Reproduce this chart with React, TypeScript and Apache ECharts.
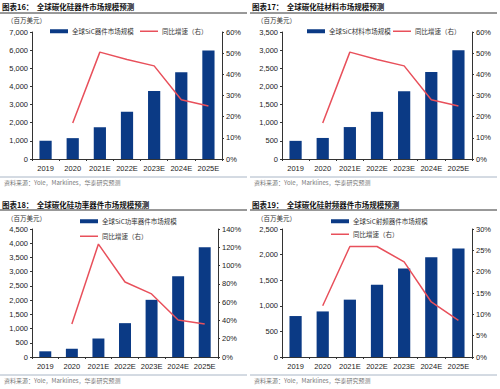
import React, { useEffect, useRef } from "react";
import * as echarts from "echarts";

const categories = ["2019", "2020", "2021E", "2022E", "2023E", "2024E", "2025E"];

const deviceMarket = [1000, 1150, 1750, 2600, 3750, 4780, 5980];
const deviceGrowth = [null, 17, 50.5, 47, 44, 28, 25];

const materialMarket = [500, 580, 880, 1300, 1870, 2400, 3000];
const materialGrowth = [null, 17, 50.5, 47, 44, 28, 25];

const powerMarket = [200, 290, 650, 1190, 2010, 2840, 3860];
const powerGrowth = [null, 36, 123.5, 82, 69, 40.5, 36];

const rfMarket = [800, 890, 1120, 1410, 1730, 1950, 2120];
const rfGrowth = [null, 12, 25.9, 25.9, 22.3, 12.9, 8.6];

const BAR = "#0B3A85";
const LINE = "#E8505B";
const FONT = "'Liberation Sans', Arial, sans-serif";
const CJK = "'Noto Sans CJK SC', sans-serif";

type PanelCfg = {
  title: string;
  barName: string;
  bars: number[];
  growth: (number | null)[];
  leftMax: number;
  leftInterval: number;
  rightMax: number;
  rightInterval: number;
  top: boolean;
  grid: { left: number; right: number; top: number; bottom: number };
  barLegend: { left: number; top: number };
  lineLegend: { left: number; top: number };
};

const panels: (PanelCfg & { x: number; y: number; h: number })[] = [
  {
    x: 0, y: 0, h: 195,
    title: "图表16：  全球碳化硅器件市场规模预测",
    barName: "全球SiC器件市场规模",
    bars: deviceMarket, growth: deviceGrowth,
    leftMax: 7000, leftInterval: 1000, rightMax: 60, rightInterval: 10,
    top: true,
    grid: { left: 32, right: 28, top: 32, bottom: 36 },
    barLegend: { left: 50, top: 28 },
    lineLegend: { left: 140, top: 28 },
  },
  {
    x: 250, y: 0, h: 195,
    title: "图表17：  全球碳化硅材料市场规模预测",
    barName: "全球SiC材料市场规模",
    bars: materialMarket, growth: materialGrowth,
    leftMax: 3500, leftInterval: 500, rightMax: 60, rightInterval: 10,
    top: true,
    grid: { left: 32, right: 28, top: 32, bottom: 36 },
    barLegend: { left: 57, top: 28 },
    lineLegend: { left: 143, top: 28 },
  },
  {
    x: 0, y: 195, h: 194,
    title: "图表18：  全球碳化硅功率器件市场规模预测",
    barName: "全球SiC功率器件市场规模",
    bars: powerMarket, growth: powerGrowth,
    leftMax: 4500, leftInterval: 500, rightMax: 140, rightInterval: 20,
    top: false,
    grid: { left: 32, right: 32, top: 34, bottom: 32 },
    barLegend: { left: 80, top: 23 },
    lineLegend: { left: 80, top: 38 },
  },
  {
    x: 250, y: 195, h: 194,
    title: "图表19：  全球碳化硅射频器件市场规模预测",
    barName: "全球SiC射频器件市场规模",
    bars: rfMarket, growth: rfGrowth,
    leftMax: 2500, leftInterval: 500, rightMax: 30, rightInterval: 5,
    top: false,
    grid: { left: 32, right: 28, top: 34, bottom: 32 },
    barLegend: { left: 81, top: 23 },
    lineLegend: { left: 81, top: 36 },
  },
];

function Panel({ cfg }: { cfg: PanelCfg & { x: number; y: number; h: number } }) {
  const ref = useRef<HTMLDivElement>(null);
  useEffect(() => {
    if (!ref.current) return;
    const chart = echarts.init(ref.current, null, { renderer: "svg" });
    const titleY = cfg.top ? 8 : 11;
    const ruleY = cfg.top ? 13 : 15;
    const unitY = cfg.top ? 21 : 24;
    const srcLineY = cfg.top ? 177 : 180;
    const srcY = cfg.top ? 183 : 186;
    const axisLabel = { fontSize: 7.5, color: "#222", fontFamily: FONT, margin: 4 };
    const legendText = { fontSize: 6.5, color: "#333", fontFamily: CJK, padding: [0, 0, 0, -1] };
    chart.setOption({
      animation: false,
      grid: { ...cfg.grid },
      legend: [
        {
          left: cfg.barLegend.left, top: cfg.barLegend.top,
          data: [{ name: cfg.barName, icon: "rect" }],
          itemWidth: 18, itemHeight: 4,
          textStyle: legendText,
          padding: 0, selectedMode: false,
        },
        {
          left: cfg.lineLegend.left, top: cfg.lineLegend.top,
          data: [{ name: "同比增速（右）", icon: "rect", itemStyle: { color: LINE } }],
          itemWidth: 18, itemHeight: 1.5,
          textStyle: legendText,
          padding: 0, selectedMode: false,
        },
      ],
      xAxis: {
        type: "category",
        data: categories,
        axisLine: { lineStyle: { color: "#333", width: 1 } },
        axisTick: { show: true, length: 2, alignWithLabel: false, lineStyle: { color: "#333" } },
        axisLabel: { ...axisLabel, margin: 5, interval: 0 },
      },
      yAxis: [
        {
          type: "value", min: 0, max: cfg.leftMax, interval: cfg.leftInterval,
          splitLine: { show: false },
          axisLine: { show: true, lineStyle: { color: "#333" } },
          axisTick: { show: true, length: 2, lineStyle: { color: "#333" } },
          axisLabel: { ...axisLabel, formatter: (v: number) => v.toLocaleString("en-US") },
        },
        {
          type: "value", min: 0, max: cfg.rightMax, interval: cfg.rightInterval,
          splitLine: { show: false },
          axisLine: { show: true, lineStyle: { color: "#333" } },
          axisTick: { show: true, length: 2, lineStyle: { color: "#333" } },
          axisLabel: { ...axisLabel, formatter: (v: number) => v + "%" },
        },
      ],
      series: [
        {
          name: cfg.barName, type: "bar", data: cfg.bars, barWidth: "45%",
          itemStyle: { color: BAR },
        },
        {
          name: "同比增速（右）", type: "line", yAxisIndex: 1, data: cfg.growth,
          symbol: "none", lineStyle: { color: LINE, width: 1.5 }, itemStyle: { color: LINE },
        },
      ],
      graphic: [
        {
          type: "text", left: 2, top: titleY - 5,
          style: { text: cfg.title, fontSize: 7.5, fontWeight: "bold", fill: "#111", fontFamily: CJK },
        },
        {
          type: "line", shape: { x1: 0, y1: ruleY, x2: 247, y2: ruleY },
          style: { stroke: "#333", lineWidth: 1 },
        },
        {
          type: "text", left: 7, top: unitY - 4,
          style: { text: "（百万美元）", fontSize: 6.5, fill: "#333", fontFamily: CJK },
        },
        {
          type: "line", shape: { x1: 0, y1: srcLineY, x2: 247, y2: srcLineY },
          style: { stroke: "#a9b6c6", lineWidth: 1 },
        },
        {
          type: "text", left: 4, top: srcY - 4,
          style: { text: "资料来源：Yole，Marklines，华泰研究预测", fontSize: 6, fill: "#777", fontFamily: CJK },
        },
      ],
    });
    return () => chart.dispose();
  }, [cfg]);
  return (
    <div
      ref={ref}
      style={{ position: "absolute", left: cfg.x, top: cfg.y, width: 250, height: cfg.h }}
    />
  );
}

export default function App() {
  return (
    <div style={{ position: "fixed", left: 0, top: 0, width: 500, height: 389, background: "#fff" }}>
      {panels.map((p) => (
        <Panel key={p.title} cfg={p} />
      ))}
    </div>
  );
}
